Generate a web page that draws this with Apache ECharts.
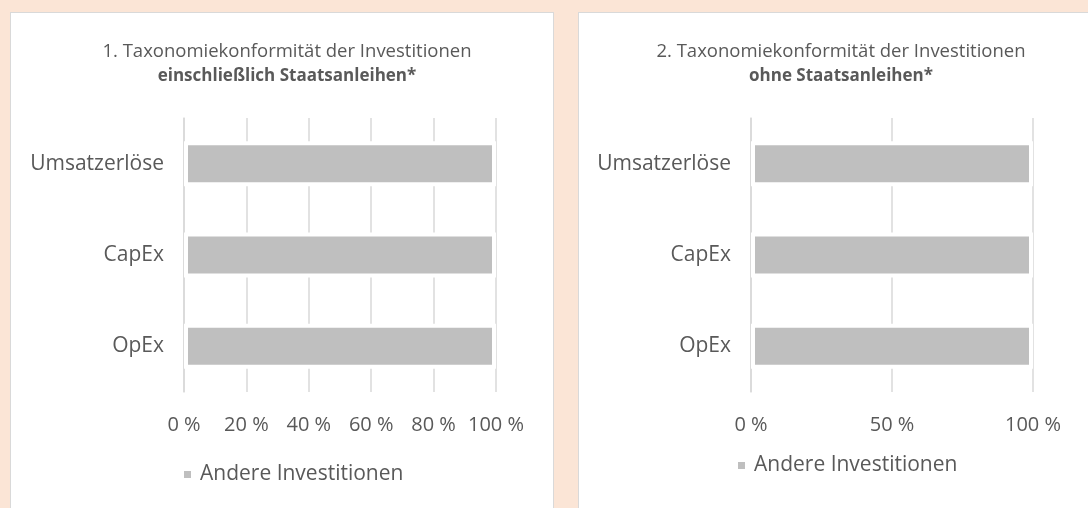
<!DOCTYPE html>
<html>
<head>
<meta charset="utf-8">
<script src="https://cdn.jsdelivr.net/npm/echarts@6/dist/echarts.min.js"></script>
<style>
  html, body { margin: 0; padding: 0; }
  body { width: 1088px; height: 508px; background: #fbe5d6; position: relative; overflow: hidden; }
  .panel { position: absolute; background: #fff; border: 1.5px solid #d9d9d9; box-sizing: border-box; }
  #p1 { left: 10px; top: 12px; width: 544px; height: 510px; }
  #p2 { left: 578px; top: 12px; width: 530px; height: 510px; }
  #chart { position: absolute; left: 0; top: 0; width: 1088px; height: 508px; }
</style>
</head>
<body>
<div class="panel" id="p1"></div>
<div class="panel" id="p2"></div>
<div id="chart"></div>
<script>
  // Daten
  const categories = ['Umsatzerlöse', 'CapEx', 'OpEx'];
  const values1 = [100, 100, 100];
  const values2 = [100, 100, 100];
  const seriesName = 'Andere Investitionen';
  const titles1 = ['1. Taxonomiekonformität der Investitionen', 'einschließlich Staatsanleihen*'];
  const titles2 = ['2. Taxonomiekonformität der Investitionen', 'ohne Staatsanleihen*'];

  const font = '"Open Sans", sans-serif';
  const textColor = '#595959';
  const lineColor = '#d9d9d9';

  function makeTitle(t, left) {
    return {
      text: '{a|' + t[0] + '}\n{b|' + t[1] + '}',
      left: left,
      top: 34,
      textAlign: 'center',
      textStyle: {
        fontWeight: 'normal',
        rich: {
          a: { fontFamily: font, fontSize: 18.5, fontWeight: 'normal', color: textColor, lineHeight: 25 },
          b: { fontFamily: font, fontSize: 17, fontWeight: 'bold', color: textColor, lineHeight: 25 }
        }
      }
    };
  }

  function xAxis(gridIndex, interval) {
    return {
      type: 'value',
      gridIndex: gridIndex,
      min: 0,
      max: 100,
      interval: interval,
      axisLine: { show: false },
      axisTick: { show: false },
      splitLine: { lineStyle: { color: lineColor, width: 1.5 } },
      axisLabel: {
        formatter: '{value} %',
        fontFamily: font,
        fontSize: 20,
        color: textColor,
        margin: 23
      }
    };
  }

  function yAxis(gridIndex) {
    return {
      type: 'category',
      gridIndex: gridIndex,
      data: categories,
      inverse: true,
      axisLine: { lineStyle: { color: lineColor, width: 1.5 } },
      axisTick: { length: 8, lineStyle: { color: lineColor, width: 1.5 } },
      axisLabel: { fontFamily: font, fontSize: 21, color: textColor, margin: 20 }
    };
  }

  function barSeries(i, data) {
    return {
      name: seriesName,
      type: 'bar',
      xAxisIndex: i,
      yAxisIndex: i,
      data: data,
      barWidth: 45,
      itemStyle: { color: '#bfbfbf', borderColor: '#fff', borderWidth: 4 },
      emphasis: { disabled: true }
    };
  }

  function legend(left, top) {
    return {
      left: left, top: top, icon: 'rect', itemWidth: 9, itemHeight: 9,
      selectedMode: false,
      textStyle: { fontFamily: font, fontSize: 21, color: textColor, padding: [0, 0, 0, 3] },
      data: [seriesName]
    };
  }

  const chart = echarts.init(document.getElementById('chart'));
  chart.setOption({
    animation: false,
    title: [makeTitle(titles1, 282), makeTitle(titles2, 836)],
    legend: [legend(177, 459), legend(731, 450)],
    grid: [
      { left: 184, top: 118, width: 312, height: 274 },
      { left: 751, top: 118, width: 282, height: 274 }
    ],
    xAxis: [xAxis(0, 20), xAxis(1, 50)],
    yAxis: [yAxis(0), yAxis(1)],
    series: [barSeries(0, values1), barSeries(1, values2)]
  });
</script>
</body>
</html>
